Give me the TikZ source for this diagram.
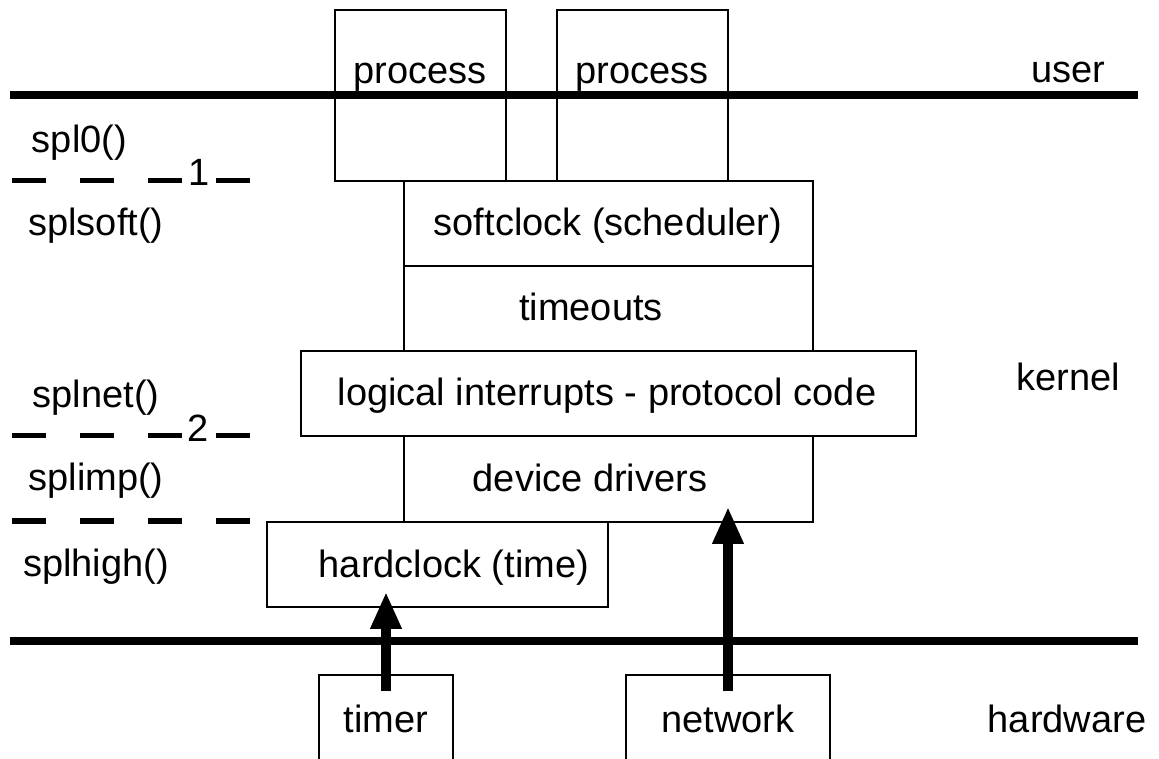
\documentclass[tikz,border=0pt]{standalone}
\usepackage{fontspec}
\setmainfont{Liberation Sans}
\usetikzlibrary{arrows.meta}
\begin{document}
\begin{tikzpicture}[x=1pt,y=-1pt,
  box/.style={draw, line width=1.6pt, inner sep=0pt},
  lbl/.style={font=\fontsize{38}{46}\selectfont, inner sep=0pt, anchor=base},
  rule/.style={line width=8pt},
  dashrule/.style={line width=5pt, dash pattern=on 33.5pt off 34.5pt},
  bigarrow/.style={line width=10pt, -{Triangle[length=37pt,width=29pt]}}]
\clip (0,0) rectangle (1159,758);
\fill[white] (0,0) rectangle (1159,758);
% boxes
\node[box, minimum width=171pt, minimum height=171pt] (proc1) at (420.5,95.5) {};
\node[box, minimum width=171pt, minimum height=171pt] (proc2) at (642.5,95.5) {};
\node[box, minimum width=409pt, minimum height=85pt] (soft) at (608.5,223.5) {};
\node[box, minimum width=409pt, minimum height=85pt] (timeouts) at (608.5,308.5) {};
\node[box, minimum width=615pt, minimum height=85pt] (logical) at (608.5,393.5) {};
\node[box, minimum width=409pt, minimum height=86pt] (drivers) at (608.5,479) {};
\node[box, minimum width=341pt, minimum height=85pt] (hardclock) at (437.5,564.5) {};
\node[box, minimum width=134pt, minimum height=125pt] (timer) at (386,737.5) {};
\node[box, minimum width=204pt, minimum height=125pt] (network) at (728,737.5) {};
% thick rules
\draw[rule] (10,95) -- (1138,95);
\draw[rule] (10,641) -- (1138,641);
% dashed level lines
\draw[dashrule] (12,180) -- (250,180);
\draw[dashrule] (12,435) -- (250,435);
\draw[dashrule, line width=6pt] (12,521) -- (250,521);
% arrows
\draw[bigarrow] ([yshift=-17pt]timer.north) -- ([yshift=16pt]timer.north |- hardclock.south);
\draw[bigarrow] ([yshift=-17pt]network.north) -- ([yshift=16pt]network.north |- drivers.south);
% texts in boxes
\node[lbl] (tproc1) at (420,83) {process};
\node[lbl] (tproc2) at (642,83) {process};
\node[lbl] (tsoft) at (608,235.5) {softclock (scheduler)};
\node[lbl] (ttimeouts) at (591,320) {timeouts};
\node[lbl] (tlogical) at (607,405) {logical interrupts - protocol code};
\node[lbl] (tdrivers) at (590,491) {device drivers};
\node[lbl] (thardclock) at (454,577) {hardclock (time)};
\node[lbl] (ttimer) at (386,732) {timer};
\node[lbl] (tnetwork) at (728,732) {network};
% left labels
\node[lbl] (spl0) at (79.5,152) {spl0()};
\node[lbl] (splsoft) at (96,235) {splsoft()};
\node[lbl] (splnet) at (96,407) {splnet()};
\node[lbl] (splimp) at (96,490) {splimp()};
\node[lbl] (splhigh) at (96,576) {splhigh()};
\node[lbl] (one) at (199,185) {1};
\node[lbl] (two) at (198,441) {2};
% right labels
\node[lbl] (user) at (1068,82) {user};
\node[lbl] (kernel) at (1068,390) {kernel};
\node[lbl] (hardware) at (1067,732) {hardware};
\end{tikzpicture}
\end{document}
